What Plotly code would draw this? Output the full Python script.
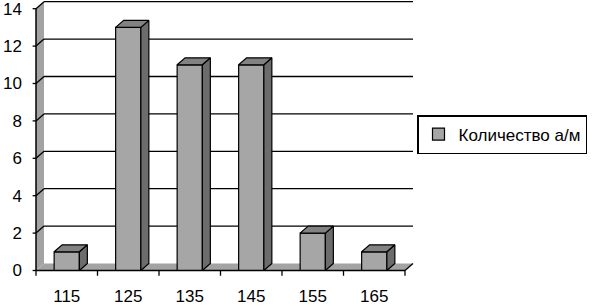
import plotly.graph_objects as go

categories = ["115", "125", "135", "145", "155", "165"]
counts = [1, 13, 11, 11, 2, 1]
y_ticks = [0, 2, 4, 6, 8, 10, 12, 14]
series_name = "Количество а/м"

# 3D look (depth offsets in data units)
DX = 0.13
DY = 0.374
BAR_W = 0.41
FRONT_C = "#a6a6a6"
SIDE_C = "#6c6c6c"
TOP_C = "#828282"
WALL_C = "#a3a3a3"
FONT = "Liberation Sans, Arial, sans-serif"

xpos = list(range(len(categories)))
x0 = -0.5
x1 = len(categories) - 0.5
ytop = max(y_ticks)

shapes = []
shapes.append(dict(type="path", layer="below", xref="x", yref="y",
                   path=f"M{x0},0 L{x0+DX},{DY} L{x0+DX},{ytop+DY} L{x0},{ytop} Z",
                   fillcolor=WALL_C, line=dict(width=0)))
shapes.append(dict(type="path", layer="below", xref="x", yref="y",
                   path=f"M{x0},0 L{x1},0 L{x1+DX},{DY} L{x0+DX},{DY} Z",
                   fillcolor=WALL_C, line=dict(width=0)))
for v in y_ticks[1:]:
    shapes.append(dict(type="line", layer="below", xref="x", yref="y",
                       x0=x0 + DX, y0=v + DY, x1=x1 + DX, y1=v + DY,
                       line=dict(color="black", width=1.3)))
    shapes.append(dict(type="line", layer="below", xref="x", yref="y",
                       x0=x0, y0=v, x1=x0 + DX, y1=v + DY,
                       line=dict(color="black", width=1.3)))
shapes.append(dict(type="line", layer="below", xref="x", yref="y",
                   x0=x1, y0=0, x1=x1 + DX, y1=DY,
                   line=dict(color="black", width=1.3)))
shapes.append(dict(type="line", layer="above", xref="x", yref="y",
                   x0=x0, y0=0, x1=x1, y1=0, line=dict(color="black", width=1.5)))
shapes.append(dict(type="line", layer="above", xref="x", yref="y",
                   x0=x0, y0=0, x1=x0, y1=ytop, line=dict(color="black", width=1.5)))
for v in y_ticks:
    shapes.append(dict(type="line", layer="above", xref="x", yref="y",
                       x0=x0 - 0.055, y0=v, x1=x0, y1=v, line=dict(color="black", width=1.3)))
for i in range(len(categories) + 1):
    b = x0 + i
    shapes.append(dict(type="line", layer="above", xref="x", yref="y",
                       x0=b, y0=0, x1=b, y1=-0.28, line=dict(color="black", width=1.3)))

fig = go.Figure()
fig.add_trace(go.Bar(x=xpos, y=counts, width=BAR_W, name=series_name,
                     marker=dict(color=FRONT_C, line=dict(color="black", width=1.2)),
                     showlegend=True))

side_x, side_y, top_x, top_y = [], [], [], []
for xc, v in zip(xpos, counts):
    xl = xc - BAR_W / 2
    xr = xc + BAR_W / 2
    side_x += [xr, xr + DX, xr + DX, xr, xr, None]
    side_y += [0, DY, v + DY, v, 0, None]
    top_x += [xl, xr, xr + DX, xl + DX, xl, None]
    top_y += [v, v, v + DY, v + DY, v, None]

fig.add_trace(go.Scatter(x=side_x, y=side_y, mode="lines", fill="toself",
                         fillcolor=SIDE_C, line=dict(color="black", width=1.2),
                         showlegend=False, hoverinfo="skip"))
fig.add_trace(go.Scatter(x=top_x, y=top_y, mode="lines", fill="toself",
                         fillcolor=TOP_C, line=dict(color="black", width=1.2),
                         showlegend=False, hoverinfo="skip"))

L, R, T, B = 32, 415, 0, 276
PXX = 61.5
PXY = 18.7
Y0PIX = 270.5
xmin = x0 - (36 - L) / PXX
xmax = x0 + (R - 36) / PXX
ymax = (Y0PIX - T) / PXY
ymin = -(B - Y0PIX) / PXY

fig.update_layout(
    width=594, height=307,
    margin=dict(l=L, r=594 - R, t=T, b=307 - B, pad=0, autoexpand=False),
    paper_bgcolor="white", plot_bgcolor="white",
    font=dict(family=FONT, size=17, color="black"),
    shapes=shapes,
    xaxis=dict(range=[xmin, xmax], tickvals=xpos, ticktext=categories,
               showgrid=False, zeroline=False, showline=False, ticks="",
               ticklabelstandoff=8, ticklabeloverflow="allow",
               automargin=False, fixedrange=True),
    yaxis=dict(range=[ymin, ymax], tickvals=y_ticks, ticktext=[str(v) for v in y_ticks],
               showgrid=False, zeroline=False, showline=False, ticks="",
               ticklabelstandoff=9, ticklabeloverflow="allow",
               automargin=False, fixedrange=True),
    legend=dict(x=(417 - L) / (R - L), y=(B - 115) / (B - T), xanchor="left", yanchor="top",
                bordercolor="black", borderwidth=1.5, bgcolor="white",
                font=dict(family=FONT, size=17, color="black")),
    showlegend=True,
)

fig.write_html("out.html", config={"displayModeBar": False},
               post_script="document.body.style.margin='0px';")
